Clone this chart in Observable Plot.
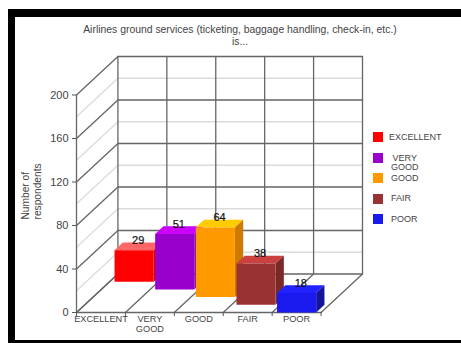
<!DOCTYPE html>
<html>
<head>
<meta charset="utf-8">
<script src="https://cdn.jsdelivr.net/npm/d3@7"></script>
<script src="https://cdn.jsdelivr.net/npm/@observablehq/plot@0.6"></script>
<style>
  html, body { margin: 0; padding: 0; background: #fff; overflow: hidden; }
  body { width: 461px; height: 343px; position: relative; font-family: "Liberation Sans", Arial, sans-serif; color: #444; }
  /* Heavy rule along the left, top and bottom of the panel */
  #panel { position: absolute; left: 8px; top: 9px; right: 0; bottom: 0; border-left: 7px solid #000; border-top: 8px solid #000; border-bottom: 3px solid #000; }
  #chart { position: absolute; left: 0; top: 0; }
  #title { position: absolute; left: 40px; width: 400px; top: 24px; text-align: center; font-size: 10.4px; line-height: 12px; }
  #legend { position: absolute; left: 373px; top: 132px; font-size: 9px; line-height: 9px; }
  #legend .row { position: relative; height: 20.6px; }
  #legend .swatch { position: absolute; left: 0; top: 0; width: 10px; height: 10px; }
  #legend .name { position: absolute; left: 18px; top: 0.5px; text-align: center; }
  #legend .name.first { left: 16px; }
  #legend .name.wrap { top: 1px; left: 18px; }
</style>
</head>
<body>
<div id="panel"></div>
<div id="chart"></div>
<div id="title">Airlines ground services (ticketing, baggage handling, check-in, etc.)<br>is...</div>
<div id="legend"></div>
<script>
// Survey answers
const categories = ["EXCELLENT", "VERY\nGOOD", "GOOD", "FAIR", "POOR"];
const respondents = [29, 51, 64, 38, 18];

// Face colours for each column
const frontColors = ["#ff0000", "#9900cc", "#ff9900", "#993333", "#1a1aee"];
const topColors = ["#ff6666", "#cc00ff", "#ffcc00", "#cc4040", "#2222ff"];
const sideColors = ["#cc0000", "#7a00a3", "#cc7a00", "#7a2828", "#14149a"];

// Value axis
const majorTicks = [0, 40, 80, 120, 160, 200];
const minorTicks = [20, 60, 100, 140, 180];
const yMax = 200;

// Oblique depth of the box, in category widths and in respondents
const depthX = 0.847;
const depthY = 35.4;
const barInset = 0.1;

// Project (category position, value, depth 0..1) into the chart's x/y data space
const px = (c, d) => c + d * depthX;
const py = (v, d) => v + d * depthY;
const seg = (id, a, b) => [
  {id, x: px(a[0], a[2]), y: py(a[1], a[2])},
  {id, x: px(b[0], b[2]), y: py(b[1], b[2])}
];

const n = categories.length;
const bounds = d3.range(n + 1);

// Wall and floor lines
const minor = minorTicks.flatMap(v => [
  ...seg(`mw${v}`, [0, v, 1], [n, v, 1]),
  ...seg(`ml${v}`, [0, v, 0], [0, v, 1])
]);
const major = [
  ...majorTicks.flatMap(v => [
    ...seg(`w${v}`, [0, v, 1], [n, v, 1]),
    ...seg(`l${v}`, [0, v, 0], [0, v, 1])
  ]),
  ...bounds.flatMap(c => [
    ...seg(`v${c}`, [c, 0, 1], [c, yMax, 1]),
    ...seg(`f${c}`, [c, 0, 0], [c, 0, 1])
  ]),
  ...seg("front", [0, 0, 0], [n, 0, 0]),
  ...seg("edge", [0, 0, 0], [0, yMax, 0])
];

// Each column stands in its own depth slice, first category furthest back
const faces = categories.flatMap((_, i) => {
  const v = respondents[i];
  const d0 = (n - 1 - i) / n;
  const d1 = (n - i) / n;
  const c0 = i + barInset;
  const c1 = i + 1 - barInset;
  const poly = (face, color, pts) => pts.map(p => ({
    id: `${i}-${face}`, color, x: px(p[0], p[2]), y: py(p[1], p[2])
  }));
  return [
    ...poly("top", topColors[i], [[c0, v, d0], [c1, v, d0], [c1, v, d1], [c0, v, d1]]),
    ...poly("side", sideColors[i], [[c1, 0, d0], [c1, v, d0], [c1, v, d1], [c1, 0, d1]]),
    ...poly("front", frontColors[i], [[c0, 0, d0], [c1, 0, d0], [c1, v, d0], [c0, v, d0]])
  ];
});

const valueLabels = categories.map((_, i) => ({
  x: px(i + 0.5, (n - 0.5 - i) / n),
  y: py(respondents[i], (n - 0.5 - i) / n),
  text: String(respondents[i])
}));

const chart = Plot.plot({
  width: 461,
  height: 343,
  marginLeft: 76,
  marginRight: 99,
  marginTop: 56,
  marginBottom: 31,
  style: {background: "transparent", fontFamily: "'Liberation Sans', Arial, sans-serif"},
  x: {domain: [0, n + depthX], axis: null},
  y: {domain: [0, yMax + depthY], axis: null},
  marks: [
    Plot.line(minor, {x: "x", y: "y", z: "id", stroke: "#dcdcdc", strokeWidth: 1.3}),
    Plot.line(major, {x: "x", y: "y", z: "id", stroke: "#666", strokeWidth: 1.3}),
    Plot.axisY({ticks: majorTicks, tickSize: 4, tickPadding: 4, fontSize: 11, label: null, color: "#444", stroke: "#555"}),
    Plot.axisX({ticks: bounds, tickSize: 4, tickFormat: () => "", label: null, stroke: "#555"}),
    Plot.text(categories, {
      x: (_, i) => i + 0.5,
      y: 0,
      text: d => d,
      frameAnchor: "bottom",
      lineAnchor: "top",
      dy: 3,
      fontSize: 9.2,
      lineHeight: 1.05,
      fill: "#444"
    }),
    Plot.line(faces, {x: "x", y: "y", z: "id", fill: "color", stroke: "none", curve: "linear-closed"}),
    Plot.text(valueLabels, {x: "x", y: "y", text: "text", dy: -6, fontSize: 11, fill: "#111", stroke: "#111", strokeWidth: 0.2}),
    Plot.text(["Number of\nrespondents"], {
      frameAnchor: "left",
      rotate: -90,
      dx: -45,
      dy: 35,
      fontSize: 10.2,
      lineHeight: 1.12,
      fill: "#444"
    })
  ]
});
document.getElementById("chart").append(chart);

// Colour key
d3.select("#legend").selectAll(".row")
  .data(categories)
  .join("div")
  .attr("class", "row")
  .html((d, i) => `<div class="swatch" style="background:${frontColors[i]}"></div>` +
    `<div class="name${d.includes("\n") ? " wrap" : ""}${i === 0 ? " first" : ""}">${d.replace("\n", "<br>")}</div>`);
</script>
</body>
</html>
